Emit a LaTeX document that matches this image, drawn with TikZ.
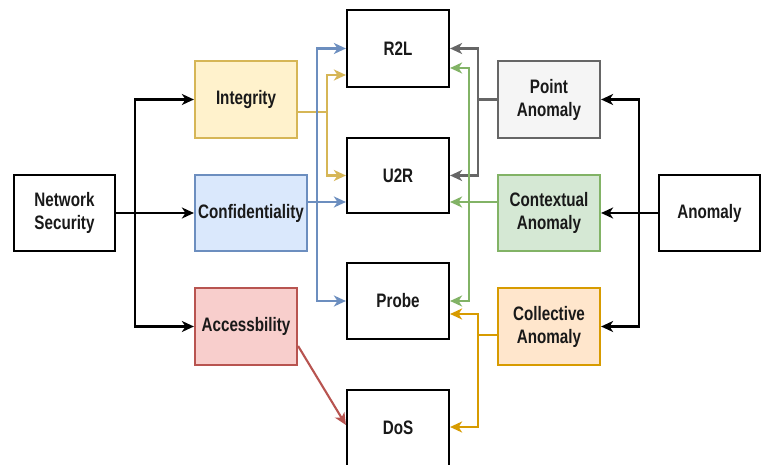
\documentclass[tikz,border=0pt]{standalone}
\usepackage{fontspec}
\setmainfont[FakeStretch=0.78]{Liberation Sans}
\usetikzlibrary{arrows.meta}
\definecolor{yelF}{HTML}{FFF2CC}\definecolor{yelD}{HTML}{D6B656}
\definecolor{bluF}{HTML}{DAE8FC}\definecolor{bluD}{HTML}{6C8EBF}
\definecolor{redF}{HTML}{F8CECC}\definecolor{redD}{HTML}{B85450}
\definecolor{gryF}{HTML}{F5F5F5}\definecolor{gryD}{HTML}{666666}
\definecolor{grnF}{HTML}{D5E8D4}\definecolor{grnD}{HTML}{82B366}
\definecolor{orgF}{HTML}{FFE6CC}\definecolor{orgD}{HTML}{D79B00}
\begin{document}
\begin{tikzpicture}[x=1pt,y=-1pt,
  box/.style={draw=black, fill=white, line width=2.2pt, minimum width=102pt, minimum height=77pt,
    align=center, inner sep=2pt, font=\bfseries\fontsize{19.5}{23}\selectfont, text=black!90},
  conn/.style={line width=2.1pt, -{Stealth[length=12pt,width=11pt,inset=3.5pt]}},
  line/.style={line width=2.1pt}]
\clip (0,0) rectangle (766,465);
\fill[white] (0,0) rectangle (766,465);
% nodes
\node[box, minimum width=101pt, minimum height=76pt] (ns) at (64.5,213) {Network\\Security};
\node[box, fill=yelF, draw=yelD] (int) at (246,99.5) {Integrity};
\node[box, fill=bluF, draw=bluD, minimum width=112pt, minimum height=76pt] (conf) at (251,213) {Confidentiality};
\node[box, fill=redF, draw=redD] (acc) at (246,326.5) {Accessbility};
\node[box] (r2l) at (398,48.5) {R2L};
\node[box, minimum height=75pt] (u2r) at (398,175.5) {U2R};
\node[box, minimum height=76pt] (probe) at (398,301) {Probe};
\node[box, minimum height=76pt] (dos) at (398,428) {DoS};
\node[box, fill=gryF, draw=gryD] (pa) at (549,99.5) {Point\\Anomaly};
\node[box, fill=grnF, draw=grnD, minimum height=76pt] (ca) at (549,213) {Contextual\\Anomaly};
\node[box, fill=orgF, draw=orgD] (col) at (549,326.5) {Collective\\Anomaly};
\node[box, minimum width=101pt, minimum height=76pt] (an) at (709.5,213) {Anomaly};
% junction coordinates
\coordinate (nsj) at (135,213);
\coordinate (intout) at ([yshift=-12.5pt]int.east);
\coordinate (intj) at (327,112);
\coordinate (confout) at ([yshift=11pt]conf.east);
\coordinate (bj) at (317,202);
\coordinate (paj) at (478,99.5);
\coordinate (caout) at ([yshift=11pt]ca.west);
\coordinate (gj) at (469,202);
\coordinate (colout) at ([yshift=-8.5pt]col.west);
\coordinate (oj) at (478,335);
\coordinate (aj) at (639,213);
% Network Security
\draw[conn] (ns.east) -- (conf.west);
\draw[conn] (nsj) |- (int.west);
\draw[conn] (nsj) |- (acc.west);
% Integrity
\draw[line, yelD] (intout) -- (intj);
\draw[conn, yelD] (intj) |- ([yshift=-26.5pt]r2l.west);
\draw[conn, yelD] (intj) |- (u2r.west);
% Confidentiality
\draw[conn, bluD] (confout) -- ([yshift=-26.5pt]u2r.west);
\draw[conn, bluD] (bj) |- (r2l.west);
\draw[conn, bluD] (bj) |- (probe.west);
% Accessbility
\draw[conn, redD] ([yshift=-19.5pt]acc.east) -- ([yshift=3pt]dos.west);
% Point anomaly
\draw[line, gryD] (pa.west) -- (paj);
\draw[conn, gryD] (paj) |- (r2l.east);
\draw[conn, gryD] (paj) |- (u2r.east);
% Contextual anomaly
\draw[conn, grnD] (caout) -- ([yshift=-26.5pt]u2r.east);
\draw[conn, grnD] (gj) |- ([yshift=-19.5pt]r2l.east);
\draw[conn, grnD] (gj) |- (probe.east);
% Collective anomaly
\draw[line, orgD] (colout) -- (oj);
\draw[conn, orgD] (oj) |- ([yshift=-13pt]probe.east);
\draw[conn, orgD] (oj) |- ([yshift=1pt]dos.east);
% Anomaly
\draw[conn] (an.west) -- (ca.east);
\draw[conn] (aj) |- (pa.east);
\draw[conn] (aj) |- (col.east);
\end{tikzpicture}
\end{document}
